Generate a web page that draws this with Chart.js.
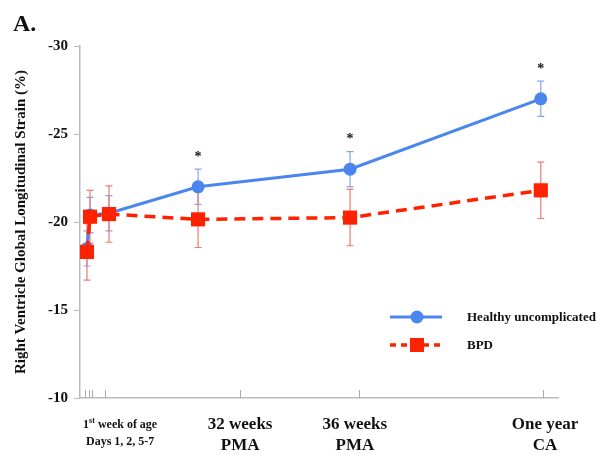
<!DOCTYPE html>
<html>
<head>
<meta charset="utf-8">
<script src="https://cdn.jsdelivr.net/npm/chart.js@4.4.0/dist/chart.umd.min.js"></script>
<style>
    html, body { margin: 0; padding: 0; background: #fff; }
    #wrap { width: 604px; height: 462px; position: relative; }
</style>
</head>
<body>
<div id="wrap"><canvas id="strainChart"></canvas></div>
<script>
// timeline positions (arbitrary 0..100 axis, as spaced in the figure)
const timePoints = [1.46, 2.1, 6.07, 24.7, 56.5, 96.4];
const axisTicks = [1.05, 1.9, 2.5, 5.2, 33.5, 58.4, 96.9];
const yTicks = [-30, -25, -20, -15, -10];

// Healthy uncomplicated: mean and SD
const healthy = [-18.5, -20.4, -20.5, -22.0, -23.0, -27.0];
const healthyErr = [1.0, 1.0, 1.0, 1.0, 1.0, 1.0];

// BPD: mean and SD
const bpd = [-18.3, -20.3, -20.45, -20.15, -20.25, -21.8];
const bpdErr = [1.6, 1.5, 1.6, 1.6, 1.6, 1.6];

// significant difference marks
const significant = [false, false, false, true, true, true];

// x labels and where they sit on the timeline
const xLabelPos = [8.4, 33.5, 57.5, 97.3];
const xLabels = [
    ['1st week of age', 'Days 1, 2, 5-7'],
    ['32 weeks', 'PMA'],
    ['36 weeks', 'PMA'],
    ['One year', 'CA']
];

const BLUE = '#4a86ee';
const RED = '#ff2200';
const SERIF = '"Liberation Serif", "DejaVu Serif", serif';

const toPoints = (vals) => vals.map((v, i) => ({ x: timePoints[i], y: v }));

const errorBars = {
    id: 'errorBars',
    beforeDatasetsDraw(chart) {
        const { ctx, scales: { x, y } } = chart;
        const sets = [
            { vals: healthy, err: healthyErr, color: '#86a6e8' },
            { vals: bpd, err: bpdErr, color: '#ee7b72' }
        ];
        ctx.save();
        ctx.lineWidth = 1.2;
        sets.forEach(s => {
            ctx.strokeStyle = s.color;
            s.vals.forEach((v, i) => {
                const px = x.getPixelForValue(timePoints[i]);
                const top = y.getPixelForValue(v - s.err[i]);
                const bot = y.getPixelForValue(v + s.err[i]);
                ctx.beginPath();
                ctx.moveTo(px, top); ctx.lineTo(px, bot);
                ctx.moveTo(px - 3.5, top); ctx.lineTo(px + 3.5, top);
                ctx.moveTo(px - 3.5, bot); ctx.lineTo(px + 3.5, bot);
                ctx.stroke();
            });
        });
        ctx.restore();
    }
};

const decorations = {
    id: 'decorations',
    afterDraw(chart) {
        const { ctx, scales: { x, y }, chartArea } = chart;
        ctx.save();
        ctx.fillStyle = '#111';

        // panel letter
        ctx.font = 'bold 24px ' + SERIF;
        ctx.textAlign = 'left';
        ctx.textBaseline = 'alphabetic';
        ctx.fillText('A.', 13, 31);

        // y title
        ctx.save();
        ctx.translate(21, (chartArea.top + chartArea.bottom) / 2);
        ctx.rotate(-Math.PI / 2);
        ctx.font = 'bold 15px ' + SERIF;
        ctx.textAlign = 'center';
        ctx.textBaseline = 'middle';
        ctx.fillText('Right Ventricle Global Longitudinal Strain (%)', 0, 0);
        ctx.restore();

        // x ticks pointing up
        ctx.strokeStyle = '#aaa';
        ctx.lineWidth = 1;
        axisTicks.forEach(t => {
            const px = Math.round(x.getPixelForValue(t)) + 0.5;
            ctx.beginPath();
            ctx.moveTo(px, chartArea.bottom);
            ctx.lineTo(px, chartArea.bottom - 8);
            ctx.stroke();
        });

        // x labels
        ctx.textAlign = 'center';
        ctx.textBaseline = 'alphabetic';
        xLabels.forEach((lines, i) => {
            const px = x.getPixelForValue(xLabelPos[i]);
            if (i === 0) {
                ctx.font = 'bold 12px ' + SERIF;
                const a = '1', rest = ' week of age';
                const sup = 'st';
                const wA = ctx.measureText(a).width;
                const wR = ctx.measureText(rest).width;
                ctx.font = 'bold 8px ' + SERIF;
                const wS = ctx.measureText(sup).width;
                let start = px - (wA + wS + wR) / 2;
                ctx.textAlign = 'left';
                ctx.font = 'bold 12px ' + SERIF;
                ctx.fillText(a, start, 428);
                ctx.font = 'bold 8px ' + SERIF;
                ctx.fillText(sup, start + wA, 423);
                ctx.font = 'bold 12px ' + SERIF;
                ctx.fillText(rest, start + wA + wS, 428);
                ctx.textAlign = 'center';
                ctx.fillText(lines[1], px, 445);
            } else {
                ctx.font = 'bold 17px ' + SERIF;
                ctx.fillText(lines[0], px, 429);
                ctx.fillText(lines[1], px, 450);
            }
        });

        // asterisks
        ctx.font = 'bold 14px ' + SERIF;
        ctx.textBaseline = 'middle';
        significant.forEach((s, i) => {
            if (!s) return;
            const px = x.getPixelForValue(timePoints[i]);
            const py = y.getPixelForValue(healthy[i] - healthyErr[i]);
            ctx.fillText('*', px, py - 12);
        });

        // legend
        const lx1 = 390, lx2 = 442, mid = 417;
        ctx.lineWidth = 3;
        ctx.strokeStyle = BLUE;
        ctx.beginPath(); ctx.moveTo(lx1, 317); ctx.lineTo(lx2, 317); ctx.stroke();
        ctx.fillStyle = BLUE;
        ctx.beginPath(); ctx.arc(mid, 317, 6.5, 0, Math.PI * 2); ctx.fill();

        ctx.strokeStyle = RED;
        ctx.lineWidth = 3.5;
        ctx.setLineDash([6, 5]);
        ctx.beginPath(); ctx.moveTo(lx1, 345); ctx.lineTo(lx2, 345); ctx.stroke();
        ctx.setLineDash([]);
        ctx.fillStyle = RED;
        ctx.fillRect(mid - 7, 345 - 7, 14, 14);

        ctx.fillStyle = '#111';
        ctx.font = 'bold 13px ' + SERIF;
        ctx.textAlign = 'left';
        ctx.textBaseline = 'middle';
        ctx.fillText('Healthy uncomplicated', 467, 318);
        ctx.fillText('BPD', 467, 346);
        ctx.restore();
    }
};

function renderStrainChart() {
    const ctx = document.getElementById('strainChart');
    if (!ctx || typeof Chart === 'undefined') return;

    new Chart(ctx, {
        type: 'line',
        data: {
            datasets: [
                {
                    label: 'Healthy uncomplicated',
                    data: toPoints(healthy),
                    borderColor: BLUE,
                    backgroundColor: BLUE,
                    borderWidth: 3,
                    pointStyle: 'circle',
                    pointRadius: 6.5,
                    pointBorderWidth: 0,
                    order: 2
                },
                {
                    label: 'BPD',
                    data: toPoints(bpd),
                    borderColor: RED,
                    backgroundColor: RED,
                    borderWidth: 3.5,
                    borderDash: [11, 7],
                    pointStyle: 'rect',
                    pointRadius: 10,
                    pointBorderWidth: 0,
                    order: 1
                }
            ]
        },
        options: {
            responsive: true,
            maintainAspectRatio: false,
            animation: false,
            layout: { padding: { top: 46, right: 46, left: 0, bottom: 0 } },
            plugins: {
                legend: { display: false },
                tooltip: { enabled: false }
            },
            scales: {
                x: {
                    type: 'linear',
                    min: 0,
                    max: 100,
                    afterBuildTicks: scale => { scale.ticks = axisTicks.map(v => ({ value: v })); },
                    afterFit: scale => { scale.height = 64; },
                    ticks: { display: false },
                    grid: { display: false },
                    border: { display: true, color: '#bbb', width: 1.5 }
                },
                y: {
                    reverse: true,
                    min: -30,
                    max: -10,
                    afterBuildTicks: scale => { scale.ticks = yTicks.map(v => ({ value: v })); },
                    afterFit: scale => { scale.width = 80; },
                    ticks: {
                        padding: 6,
                        color: '#111',
                        font: { family: SERIF, size: 15, weight: 'bold' }
                    },
                    grid: { drawOnChartArea: false, drawTicks: true, tickLength: 6, color: '#bbb' },
                    border: { display: true, color: '#bbb', width: 1.5 }
                }
            }
        },
        plugins: [errorBars, decorations]
    });
}

document.addEventListener('DOMContentLoaded', () => {
    renderStrainChart();
});
</script>
</body>
</html>
